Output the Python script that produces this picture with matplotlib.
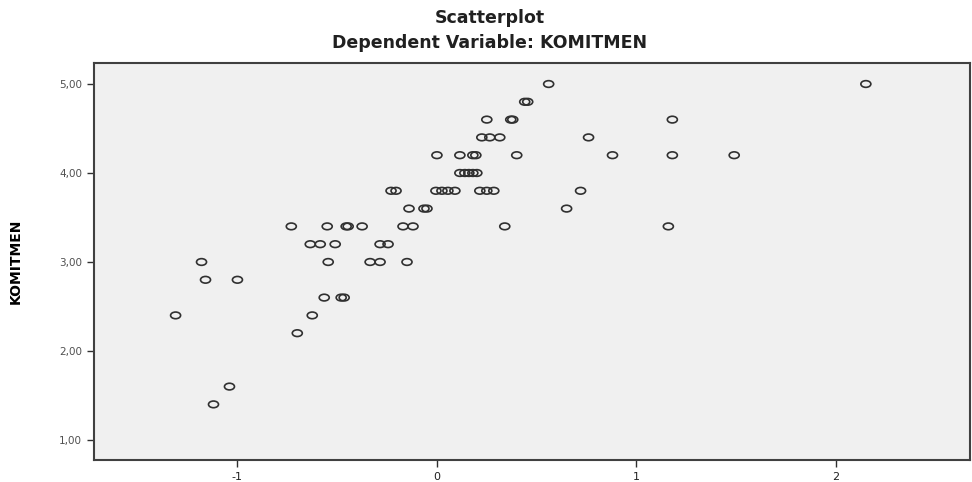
import matplotlib
matplotlib.use('Agg')
import matplotlib.pyplot as plt
import numpy as np
from matplotlib.path import Path
from matplotlib.transforms import Affine2D

# ---------- Data (regression standardized predicted value vs KOMITMEN) ----------
pred_x = [0.56, 2.15,
          0.44, 0.455,
          0.25, 0.37, 0.38, 1.18,
          0.225, 0.265, 0.315, 0.76,
          0.0, 0.115, 0.18, 0.195, 0.40, 0.88, 1.18, 1.49,
          0.115, 0.14, 0.16, 0.18, 0.20,
          -0.23, -0.205, -0.005, 0.025, 0.055, 0.09, 0.215, 0.25, 0.285, 0.72,
          -0.14, -0.065, -0.05, 0.65,
          -0.73, -0.55, -0.455, -0.445, -0.375, -0.17, -0.12, 0.34, 1.16,
          -0.635, -0.585, -0.51, -0.285, -0.245,
          -1.18, -0.545, -0.335, -0.285, -0.15,
          -1.16, -1.0,
          -0.565, -0.48, -0.465,
          -1.31, -0.625,
          -0.70,
          -1.04,
          -1.12]
komitmen = [5.0, 5.0,
            4.8, 4.8,
            4.6, 4.6, 4.6, 4.6,
            4.4, 4.4, 4.4, 4.4,
            4.2, 4.2, 4.2, 4.2, 4.2, 4.2, 4.2, 4.2,
            4.0, 4.0, 4.0, 4.0, 4.0,
            3.8, 3.8, 3.8, 3.8, 3.8, 3.8, 3.8, 3.8, 3.8, 3.8,
            3.6, 3.6, 3.6, 3.6,
            3.4, 3.4, 3.4, 3.4, 3.4, 3.4, 3.4, 3.4, 3.4,
            3.2, 3.2, 3.2, 3.2, 3.2,
            3.0, 3.0, 3.0, 3.0, 3.0,
            2.8, 2.8,
            2.6, 2.6, 2.6,
            2.4, 2.4,
            2.2,
            1.6,
            1.4]

x_ticks = [-1, 0, 1, 2]
y_ticks = [1.0, 2.0, 3.0, 4.0, 5.0]
y_tick_labels = ['1,00', '2,00', '3,00', '4,00', '5,00']

# ---------- Plot ----------
fig = plt.figure(figsize=(9.72, 4.82), dpi=100)
ax = fig.add_axes([94 / 972, 1 - 460 / 482, 876 / 972, 397 / 482])
ax.set_facecolor('#F0F0F0')

# SPSS-style open circles are slightly wider than tall
ellipse = Path.unit_circle().transformed(Affine2D().scale(1.5, 1.0))
ax.scatter(pred_x, komitmen, marker=ellipse, s=52, facecolors='none',
           edgecolors='#303030', linewidths=1.2, zorder=3)

ax.set_xlim(-1.719, 2.672)
ax.set_ylim(0.775, 5.236)
ax.set_xticks(x_ticks)
ax.set_xticklabels([str(t) for t in x_ticks], fontsize=8, color='#202020')
ax.set_yticks(y_ticks)
ax.set_yticklabels(y_tick_labels, fontsize=7.5, color='#505050')
ax.tick_params(axis='both', direction='out', length=5, width=1.0, color='#303030')

for s in ax.spines.values():
    s.set_color('#404040')
    s.set_linewidth(1.5)

ax.set_ylabel('KOMITMEN', fontsize=10, fontweight='bold', labelpad=26)

fig.text(490 / 972, 1 - 18 / 482, 'Scatterplot', ha='center', va='center',
         fontsize=12.5, fontweight='bold', color='#202020')
fig.text(490 / 972, 1 - 43 / 482, 'Dependent Variable: KOMITMEN', ha='center',
         va='center', fontsize=12.5, fontweight='bold', color='#202020')

plt.savefig('out.png', dpi=100)
